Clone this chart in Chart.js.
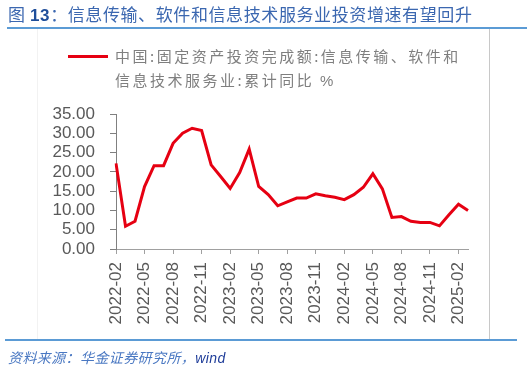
<!DOCTYPE html>
<html><head><meta charset="utf-8">
<script src="https://cdn.jsdelivr.net/npm/chart.js@4/dist/chart.umd.min.js"></script>
<style>
html,body{margin:0;padding:0;background:#fff;width:527px;height:370px;overflow:hidden;}
#wrap{position:relative;width:527px;height:370px;}
canvas{position:absolute;left:0;top:0;}
.abs{position:absolute;white-space:nowrap;}
#title{left:8px;top:3px;font:17px "Noto Sans CJK SC",sans-serif;color:#3b67b0;letter-spacing:0.6px;line-height:22px;}
#title b{font-family:Arial,"Liberation Sans",sans-serif;font-weight:bold;color:#1f4e9a;}
#topline{left:7px;top:27px;width:520px;height:2px;background:#5b9bd5;}
#botline{left:5px;top:339px;width:512px;height:2px;background:#5b9bd5;}
#rframe{left:489px;top:29px;width:1px;height:310px;background:#c8c8c8;}
#lframe{left:37px;top:29px;width:1px;height:310px;background:#f2f2f2;}
#legline{left:68px;top:55px;width:40px;height:3px;background:#E60012;}
#legtext{left:115px;top:44px;font:15px "Noto Sans CJK SC",sans-serif;color:#7f7f7f;letter-spacing:2.5px;line-height:24px;white-space:normal;width:370px;}
#legtext span{font-family:Arial,"Liberation Sans",sans-serif;}
#source{left:8px;top:347px;font:italic 14px "Noto Sans CJK SC",sans-serif;color:#4a78c2;letter-spacing:0.4px;line-height:20px;}
#source span{font-family:Arial,"Liberation Sans",sans-serif;color:#1f3d99;}
</style></head>
<body><div id="wrap">
<canvas id="c" width="527" height="370"></canvas>
<div id="title" class="abs">图 <b>13</b>：信息传输、软件和信息技术服务业投资增速有望回升</div>
<div id="topline" class="abs"></div>
<div id="lframe" class="abs"></div>
<div id="rframe" class="abs"></div>
<div id="legline" class="abs"></div>
<div id="legtext" class="abs"></div>
<div id="botline" class="abs"></div>
<div id="source" class="abs">资料来源：华金证券研究所，<span>wind</span></div>
</div>
<script>
const seriesLabel = "中国:固定资产投资完成额:信息传输、软件和信息技术服务业:累计同比 %";
const legendLines = ["中国:固定资产投资完成额:信息传输、软件和", "信息技术服务业:累计同比 <span>%</span>"];
const months = [
 "2022-02","2022-03","2022-04","2022-05","2022-06","2022-07","2022-08","2022-09","2022-10","2022-11","2022-12",
 "2023-01","2023-02","2023-03","2023-04","2023-05","2023-06","2023-07","2023-08","2023-09","2023-10","2023-11","2023-12",
 "2024-01","2024-02","2024-03","2024-04","2024-05","2024-06","2024-07","2024-08","2024-09","2024-10","2024-11","2024-12",
 "2025-01","2025-02","2025-03"];
const values = [
 22.2,5.9,7.2,16.2,21.6,21.6,27.4,30.0,31.3,30.7,21.8,
 18.8,15.7,19.8,25.9,16.2,14.1,11.2,12.2,13.2,13.2,14.3,13.8,
 13.4,12.8,14.1,16.0,19.5,15.6,8.2,8.4,7.2,6.9,6.9,6.0,
 8.9,11.6,10.0];
const yTicks = [0,5,10,15,20,25,30,35];
const tickMonths = ["02","05","08","11"];

document.getElementById('legtext').innerHTML = legendLines.join('<br>');

const numFont = {family: 'Arial, "Liberation Sans", sans-serif', size: 17};
new Chart(document.getElementById('c'), {
  type: 'line',
  data: {labels: months, datasets: [{label: seriesLabel, data: values,
    borderColor: '#E60012', borderWidth: 3, pointRadius: 0, tension: 0, fill: false}]},
  options: {
    responsive: false, animation: false, devicePixelRatio: 1,
    layout: {padding: {left: 0, top: 114, right: 59, bottom: 0}},
    plugins: {legend: {display: false}, tooltip: {enabled: false}},
    scales: {
      x: {
        offset: false,
        grid: {drawOnChartArea: false, drawTicks: true, tickLength: 5, color: '#a0a0a0'},
        border: {display: true, color: '#a0a0a0', width: 1},
        ticks: {autoSkip: false, minRotation: 90, maxRotation: 90, padding: 8, color: '#595959', font: numFont,
          callback: function(v, i){ const m = months[i]; return tickMonths.includes(m.slice(5)) ? m : null; }},
        afterFit: s => { s.height = 121; }
      },
      y: {
        min: 0, max: 35,
        afterBuildTicks: s => { s.ticks = yTicks.map(v => ({value: v})); },
        grid: {drawOnChartArea: false, drawTicks: true, tickLength: 6, color: '#808080'},
        border: {display: true, color: '#808080', width: 1},
        ticks: {autoSkip: false, padding: 15, color: '#595959', font: numFont, callback: v => Number(v).toFixed(2)},
        afterFit: s => { s.width = 116; }
      }
    }
  }
});
</script>
</body></html>
